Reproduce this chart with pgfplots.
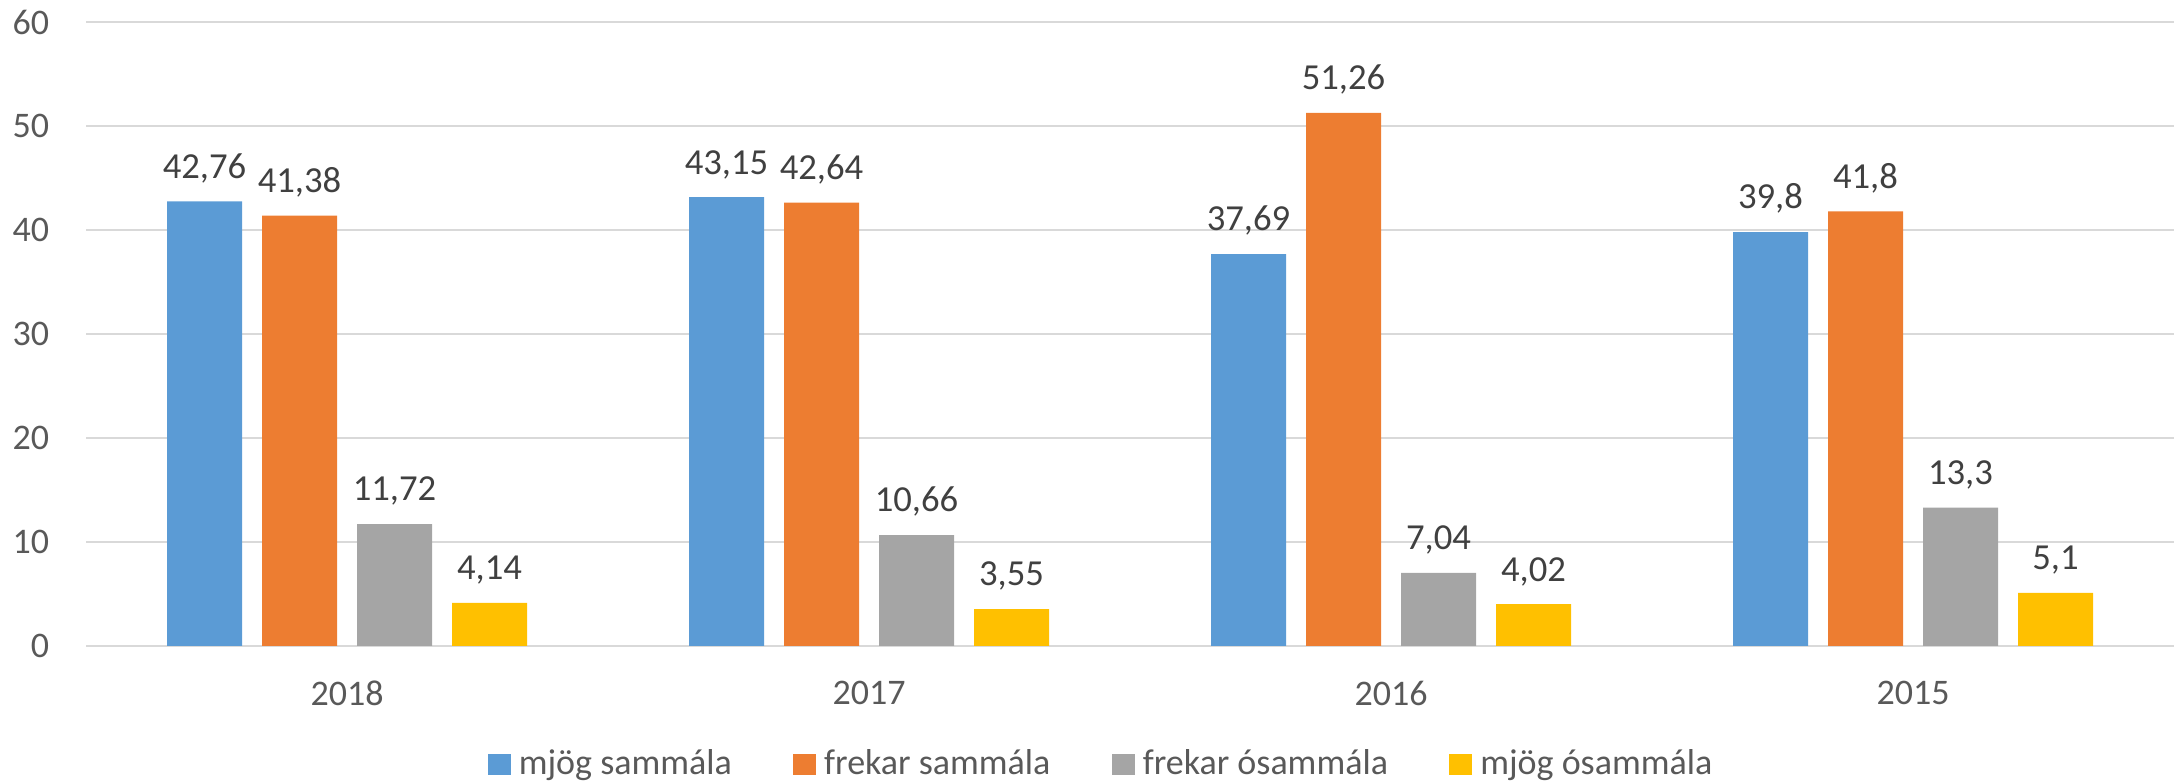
\documentclass[border=0pt]{standalone}
\usepackage{pgfplots}
\usepackage{pgfplotstable}
\pgfplotsset{compat=1.18}
\usepackage{fontspec}
\setmainfont{Carlito}
\definecolor{cblue}{HTML}{5B9BD5}
\definecolor{corange}{HTML}{ED7D31}
\definecolor{cgray}{HTML}{A5A5A5}
\definecolor{cyellow}{HTML}{FFC000}
\definecolor{cgrid}{HTML}{D9D9D9}
\definecolor{ctick}{HTML}{595959}
\definecolor{clabel}{HTML}{404040}

\pgfplotstableread{
x y lab
0 42.76 {42,76}
1 43.15 {43,15}
2 37.69 {37,69}
3 39.8 {39,8}
}\tblA
\pgfplotstableread{
x y lab
0 41.38 {41,38}
1 42.64 {42,64}
2 51.26 {51,26}
3 41.8 {41,8}
}\tblB
\pgfplotstableread{
x y lab
0 11.72 {11,72}
1 10.66 {10,66}
2 7.04 {7,04}
3 13.3 {13,3}
}\tblC
\pgfplotstableread{
x y lab
0 4.14 {4,14}
1 3.55 {3,55}
2 4.02 {4,02}
3 5.1 {5,1}
}\tblD

\begin{document}
\begin{tikzpicture}
\begin{axis}[
  name=ax,
  scale only axis, width=626.4pt, height=187.2pt,
  ymin=0, ymax=60, ytick={0,10,...,60},
  xmin=-0.5, xmax=3.5, xtick={0,1,2,3}, xticklabels={2018,2017,2016,2015},
  ybar=6pt, bar width=22.5pt,
  ymajorgrids, grid style={draw=cgrid, line width=0.6pt},
  axis x line*=bottom, axis y line*=left,
  x axis line style={draw=cgrid, line width=0.7pt, -},
  y axis line style={draw=none},
  major tick length=0pt,
  tick label style={font=\fontsize{10.8}{13}\selectfont, text=ctick},
  /pgf/number format/assume math mode=true,
  yticklabel style={xshift=-7.5pt},
  xticklabel style={yshift=-7pt},
  nodes near coords, point meta=explicit symbolic,
  nodes near coords style={font=\fontsize{11}{13}\selectfont, text=clabel, yshift=2pt},
  legend columns=4,
  legend style={draw=none, fill=none, at={(0.4876,0)}, anchor=center, yshift=-35.5pt,
    font=\fontsize{10.8}{13}\selectfont, text=ctick,
    /tikz/every odd column/.append style={column sep=0pt},
    /tikz/every even column/.append style={column sep=16pt},
    nodes={inner xsep=2.4pt, inner ysep=0pt}},
  legend image code/.code={\fill[#1] (0pt,-3.2pt) rectangle (6.9pt,3.2pt);},
  clip=false,
]
\addplot[fill=cblue, draw=none] table[x=x,y=y,meta=lab]{\tblA};
\addplot[fill=corange, draw=none] table[x=x,y=y,meta=lab]{\tblB};
\addplot[fill=cgray, draw=none] table[x=x,y=y,meta=lab]{\tblC};
\addplot[fill=cyellow, draw=none] table[x=x,y=y,meta=lab]{\tblD};
\legend{mjög sammála, frekar sammála, frekar ósammála, mjög ósammála}
\end{axis}
\pgfresetboundingbox
\path ([shift={(-25.8pt,-41.4pt)}]ax.south west) rectangle ([shift={(1.2pt,6.6pt)}]ax.north east);
\end{tikzpicture}
\end{document}
